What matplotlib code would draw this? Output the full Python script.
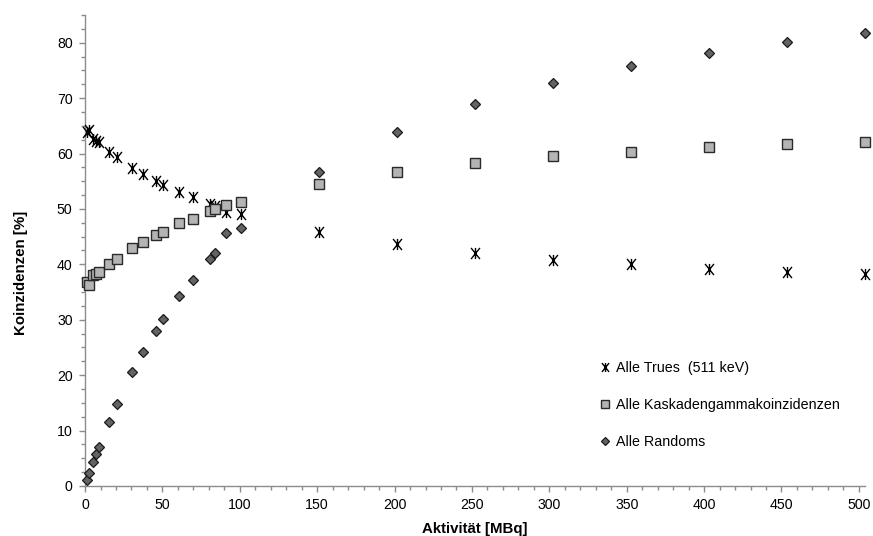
import matplotlib
matplotlib.use("Agg")
import matplotlib.pyplot as plt
from matplotlib.path import Path

# Aktivität [MBq]
activity = [1, 2.8, 5.2, 7.1, 9.1, 15.4, 20.6, 30.3, 37.5, 45.8, 50.7,
            60.5, 69.6, 80.7, 84.0, 90.9, 100.8,
            151.2, 201.6, 252.0, 302.4, 352.8, 403.2, 453.6, 504.0]

# Koinzidenzen [%]
trues = [63.8, 64.2, 62.6, 62.3, 62.0, 60.3, 59.3, 57.4, 56.3, 55.1, 54.3,
         53.0, 52.1, 50.9, 50.5, 49.5, 49.0,
         45.8, 43.6, 42.0, 40.8, 40.0, 39.2, 38.6, 38.2]
kaskade = [36.8, 36.2, 38.0, 38.3, 38.6, 40.1, 41.0, 42.9, 44.0, 45.3, 45.9,
           47.4, 48.2, 49.6, 50.0, 50.7, 51.3,
           54.5, 56.7, 58.3, 59.5, 60.3, 61.1, 61.7, 62.1]
randoms = [1.0, 2.3, 4.3, 5.7, 7.1, 11.5, 14.8, 20.5, 24.2, 28.0, 30.1,
           34.3, 37.2, 40.9, 42.1, 45.7, 46.6,
           56.7, 63.8, 68.9, 72.7, 75.8, 78.2, 80.2, 81.8]

labels = ["Alle Trues  (511 keV)", "Alle Kaskadengammakoinzidenzen", "Alle Randoms"]
x_ticks = [0, 50, 100, 150, 200, 250, 300, 350, 400, 450, 500]
y_ticks = [0, 10, 20, 30, 40, 50, 60, 70, 80]

plt.rcParams['font.family'] = ['Liberation Sans', 'DejaVu Sans']

# Excel style star: an x with a vertical bar
star = Path([(-0.8, -1), (0.8, 1), (-0.8, 1), (0.8, -1), (0, -1), (0, 1)],
            [Path.MOVETO, Path.LINETO, Path.MOVETO, Path.LINETO, Path.MOVETO, Path.LINETO])

fig = plt.figure(figsize=(8.73, 5.36), dpi=100)
ax = fig.add_axes([0.0974, 0.0933, 0.8935, 0.8787])

ax.plot(activity, trues, linestyle='none', marker=star, markersize=8,
        markeredgecolor='black', markerfacecolor='none', markeredgewidth=1.0,
        label=labels[0], clip_on=False, zorder=3)
ax.plot(activity, kaskade, linestyle='none', marker='s', markersize=7.5,
        markerfacecolor='#b4b4b4', markeredgecolor='#2a2a2a', markeredgewidth=1.0,
        label=labels[1], clip_on=False, zorder=3)
ax.plot(activity, randoms, linestyle='none', marker='D', markersize=5.5,
        markerfacecolor='#636363', markeredgecolor='#1a1a1a', markeredgewidth=0.9,
        label=labels[2], clip_on=False, zorder=3)

ax.set_xlim(0, 504)
ax.set_ylim(0, 85)
ax.set_xticks(x_ticks)
ax.set_yticks(y_ticks)
ax.set_xticks(range(0, 505, 10), minor=True)
ax.set_yticks([v * 2.5 for v in range(35)], minor=True)

for side in ['top', 'right']:
    ax.spines[side].set_visible(False)
for side in ['left', 'bottom']:
    ax.spines[side].set_color('#8c8c8c')
    ax.spines[side].set_linewidth(1.0)

ax.tick_params(which='both', direction='out', color='#8c8c8c', width=1.0,
               labelsize=10.2, labelcolor='black')
ax.tick_params(which='major', length=4, pad=5)
ax.tick_params(which='minor', length=3)

ax.set_xlabel("Aktivität [MBq]", fontsize=10.8, fontweight='bold')
ax.set_ylabel("Koinzidenzen [%]", fontsize=10.8, fontweight='bold')
ax.xaxis.set_label_coords(0.5, -0.0765)
ax.yaxis.set_label_coords(-0.073, 0.452)

leg = ax.legend(loc='center left', bbox_to_anchor=(0.652, 0.172), frameon=False,
                fontsize=10.3, handlelength=0.6, handletextpad=0.45,
                labelspacing=1.6, borderpad=0, markerscale=0.8)

fig.savefig("out.png", dpi=100)
